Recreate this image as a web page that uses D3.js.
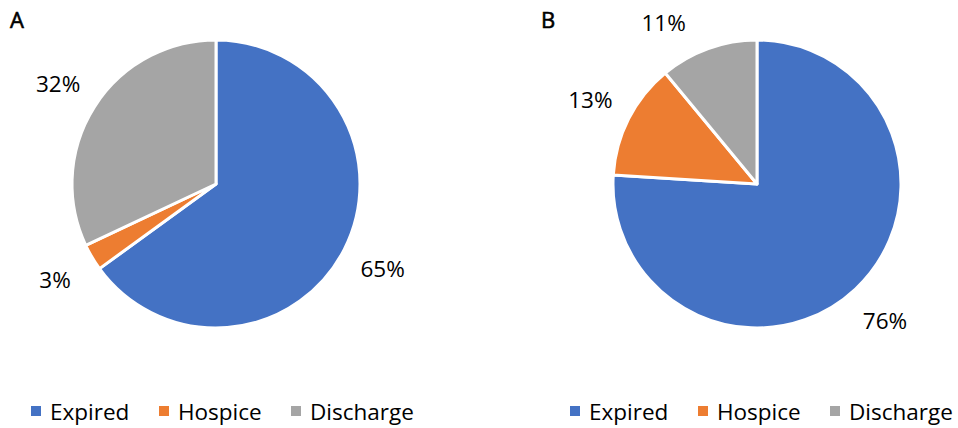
<!DOCTYPE html>
<html>
<head>
<meta charset="utf-8">
<script src="https://cdn.jsdelivr.net/npm/d3@7"></script>
<style>
  html, body { margin: 0; padding: 0; background: #fff; }
  svg { display: block; }
  text { font-family: "Open Sans", "Noto Sans", sans-serif; fill: #000; }
</style>
</head>
<body>
<svg id="chart" width="958" height="428"></svg>
<script>
const categories = ["Expired", "Hospice", "Discharge"];
const colors = ["#4472C4", "#ED7D31", "#A5A5A5"];
const panelLabels = ["A", "B"];
const valuesA = [65, 3, 32];
const valuesB = [76, 13, 11];
const panels = [valuesA, valuesB];

const svg = d3.select("#chart");
const W = 958, H = 428;
const color = d3.scaleOrdinal().domain(categories).range(colors);

const panelX = d3.scaleBand().domain(panelLabels).range([0, W]);
const radius = 144;
const labelR = 187;
const pie = d3.pie().sort(null).value(d => d.v);
const arc = d3.arc().innerRadius(0).outerRadius(radius);

panelLabels.forEach((p, i) => {
  const vals = panels[i];
  const data = categories.map((c, j) => ({ c, v: vals[j] }));
  const x0 = panelX(p);
  const cx = i === 0 ? x0 + 216 : x0 + 278;
  const cy = 184;
  const g = svg.append("g").attr("transform", `translate(${cx},${cy})`);
  const arcs = pie(data);
  g.selectAll("path").data(arcs).join("path")
    .attr("d", arc)
    .attr("fill", d => color(d.data.c))
    .attr("stroke", "#fff")
    .attr("stroke-width", 3)
    .attr("stroke-linejoin", "round");

  // data labels (outside end, kept inside plot area)
  const topLimit = -162;
  g.selectAll("text.lbl").data(arcs).join("text")
    .attr("class", "lbl")
    .each(function(d) {
      const a = (d.startAngle + d.endAngle) / 2;
      let x = labelR * Math.sin(a), y = -labelR * Math.cos(a);
      if (y < topLimit) {
        y = topLimit;
        x = Math.sign(x) * Math.sqrt(labelR * labelR - y * y);
      }
      d3.select(this).attr("x", x).attr("y", y);
    })
    .attr("text-anchor", "middle")
    .attr("dominant-baseline", "central")
    .attr("font-size", 22.5)
    .text(d => d.data.v + "%");

  // panel letter
  svg.append("text")
    .attr("x", i === 0 ? x0 + 10 : x0 + 62)
    .attr("y", 28)
    .attr("font-family", "DejaVu Sans Condensed, sans-serif")
    .attr("font-size", 22)
    .attr("stroke", "#000")
    .attr("stroke-width", 0.6)
    .text(p);

  // legend
  const lx = i === 0 ? x0 + 31 : x0 + 91;
  const legendOffsets = [0, 128, 260];
  const lg = svg.append("g").attr("transform", `translate(${lx},406)`);
  categories.forEach((c, j) => {
    lg.append("rect")
      .attr("x", legendOffsets[j]).attr("y", 0)
      .attr("width", 10).attr("height", 10)
      .attr("fill", color(c));
    lg.append("text")
      .attr("x", legendOffsets[j] + 19).attr("y", 5)
      .attr("dominant-baseline", "central")
      .attr("font-size", 22.5)
      .text(c);
  });
});
</script>
</body>
</html>
